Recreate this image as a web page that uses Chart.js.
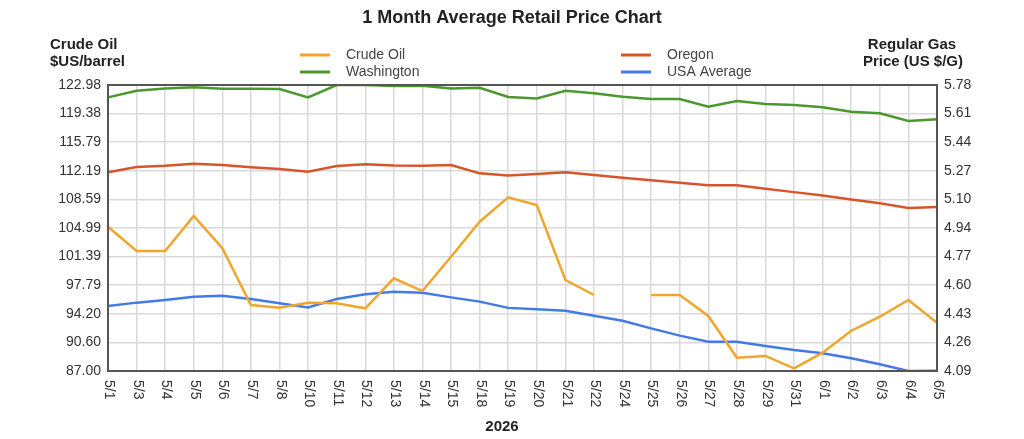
<!DOCTYPE html>
<html>
<head>
<meta charset="utf-8">
<script src="https://cdn.jsdelivr.net/npm/chart.js@4"></script>
<style>
  body { margin: 0; background: #fff; }
  canvas { display: block; }
</style>
</head>
<body>
<canvas id="priceChart" width="1024" height="439"></canvas>
<script>
const dates = ["5/1", "5/3", "5/4", "5/5", "5/6", "5/7", "5/8", "5/10", "5/11", "5/12",
  "5/13", "5/14", "5/15", "5/18", "5/19", "5/20", "5/21", "5/22", "5/24", "5/25",
  "5/26", "5/27", "5/28", "5/29", "5/31", "6/1", "6/2", "6/3", "6/4", "6/5"];

// $US/barrel, left axis (no quote on 5/24)
const crudeOil = [105.15, 102.10, 102.10, 106.50, 102.44, 95.30, 94.96, 95.59, 95.52, 94.89,
  98.66, 97.06, 101.38, 105.78, 108.85, 107.88, 98.45, 96.56, null, 96.56,
  96.56, 93.92, 88.67, 88.89, 87.34, 89.30, 92.07, 93.83, 95.93, 93.08];

// US $/gallon, right axis
const oregon = [5.264, 5.295, 5.303, 5.315, 5.307, 5.294, 5.284, 5.268, 5.301, 5.311,
  5.305, 5.303, 5.307, 5.258, 5.245, 5.254, 5.264, 5.248, 5.232, 5.217,
  5.203, 5.188, 5.187, 5.167, 5.147, 5.127, 5.103, 5.081, 5.053, 5.059];
const washington = [5.707, 5.746, 5.760, 5.766, 5.758, 5.758, 5.756, 5.707, 5.780, 5.780,
  5.774, 5.776, 5.760, 5.764, 5.709, 5.700, 5.746, 5.731, 5.711, 5.697,
  5.697, 5.652, 5.685, 5.668, 5.662, 5.648, 5.622, 5.613, 5.567, 5.577];
const usaAverage = [4.474, 4.494, 4.510, 4.529, 4.535, 4.515, 4.490, 4.466, 4.515, 4.543,
  4.559, 4.553, 4.525, 4.500, 4.463, 4.455, 4.446, 4.417, 4.387, 4.342,
  4.299, 4.263, 4.263, 4.238, 4.214, 4.195, 4.165, 4.130, 4.090, 4.092];

const crudeTicks = ["87.00", "90.60", "94.20", "97.79", "101.39", "104.99", "108.59", "112.19", "115.79", "119.38", "122.98"];
const gasTicks = ["4.09", "4.26", "4.43", "4.60", "4.77", "4.94", "5.10", "5.27", "5.44", "5.61", "5.78"];

const FONT = "'Liberation Sans', Arial, sans-serif";

// evenly spaced ticks between first and last label
function evenTicks(labels) {
  return function (scale) {
    const lo = parseFloat(labels[0]);
    const hi = parseFloat(labels[labels.length - 1]);
    const n = labels.length - 1;
    scale.ticks = labels.map((_, i) => ({ value: lo + (hi - lo) * i / n }));
  };
}

const decorations = {
  id: "decorations",
  afterDatasetsDraw(chart) {
    const ctx = chart.ctx;
    const area = chart.chartArea;
    ctx.save();
    ctx.strokeStyle = "#555";
    ctx.lineWidth = 2;
    ctx.strokeRect(area.left, area.top, area.right - area.left, area.bottom - area.top);
    ctx.restore();
  },
  afterDraw(chart) {
    const ctx = chart.ctx;
    const area = chart.chartArea;
    const xScale = chart.scales.x;
    ctx.save();

    // title
    ctx.fillStyle = "#222";
    ctx.textAlign = "center";
    ctx.textBaseline = "middle";
    ctx.font = "bold 18px " + FONT;
    ctx.fillText("1 Month Average Retail Price Chart", 512, 18);

    // axis titles
    ctx.font = "bold 15px " + FONT;
    ctx.textAlign = "left";
    ctx.fillText("Crude Oil", 50, 45);
    ctx.fillText("$US/barrel", 50, 62);
    ctx.textAlign = "center";
    ctx.fillText("Regular Gas", 912, 45);
    ctx.fillText("Price (US $/G)", 913, 62);

    // legend, two columns
    const cols = [300, 621];
    const rows = [55, 72];
    const order = [0, 2, 1, 3];
    ctx.font = "14px " + FONT;
    ctx.textAlign = "left";
    order.forEach((dsIndex, k) => {
      const ds = chart.data.datasets[dsIndex];
      const x = cols[Math.floor(k / 2)];
      const y = rows[k % 2];
      ctx.strokeStyle = ds.borderColor;
      ctx.lineWidth = 3;
      ctx.beginPath();
      ctx.moveTo(x, y);
      ctx.lineTo(x + 30, y);
      ctx.stroke();
      ctx.fillStyle = "#444";
      ctx.fillText(ds.label, x + 46, y);
    });

    // rotated date labels
    ctx.fillStyle = "#333";
    ctx.font = "14px " + FONT;
    dates.forEach((d, i) => {
      const x = xScale.getPixelForTick(i);
      ctx.save();
      ctx.translate(x + 1, area.bottom + 9);
      ctx.rotate(Math.PI / 2);
      ctx.textAlign = "left";
      ctx.textBaseline = "middle";
      ctx.fillText(d, 0, 0);
      ctx.restore();
    });

    ctx.font = "bold 15px " + FONT;
    ctx.fillStyle = "#222";
    ctx.textAlign = "center";
    ctx.fillText("2026", 502, 427);
    ctx.restore();
  }
};

const ctx = document.getElementById("priceChart").getContext("2d");

const chartData = {
  labels: dates,
  datasets: [
    {
      label: "Crude Oil",
      data: crudeOil,
      yAxisID: "yCrude",
      borderColor: "rgb(240, 166, 44)",
    },
    {
      label: "Oregon",
      data: oregon,
      yAxisID: "yGas",
      borderColor: "rgb(214, 86, 44)",
    },
    {
      label: "Washington",
      data: washington,
      yAxisID: "yGas",
      borderColor: "rgb(76, 152, 46)",
    },
    {
      label: "USA Average",
      data: usaAverage,
      yAxisID: "yGas",
      borderColor: "rgb(68, 122, 232)",
    },
  ],
};

const options = {
  responsive: false,
  animation: false,
  spanGaps: false,
  layout: { padding: { top: 85, left: 0, right: 0, bottom: 0 } },
  elements: {
    line: { borderWidth: 2.5, tension: 0, fill: false },
    point: { radius: 0 },
  },
  plugins: {
    legend: { display: false },
    title: { display: false },
    tooltip: { enabled: false },
  },
  scales: {
    x: {
      offset: false,
      grid: { color: "#d9d9d9", lineWidth: 1.5, drawTicks: false },
      border: { display: false },
      ticks: { display: false, autoSkip: false },
      afterFit(scale) { scale.height = 68; },
    },
    yCrude: {
      position: "left",
      min: 87,
      max: 122.98,
      afterBuildTicks: evenTicks(crudeTicks),
      grid: { color: "#d9d9d9", lineWidth: 1.5, drawTicks: false },
      border: { display: false },
      ticks: {
        padding: 7,
        color: "#333",
        font: { family: FONT, size: 14 },
        callback: (value, index) => crudeTicks[index],
      },
      afterFit(scale) { scale.width = 108; },
    },
    yGas: {
      position: "right",
      min: 4.09,
      max: 5.78,
      afterBuildTicks: evenTicks(gasTicks),
      grid: { display: false, drawTicks: false },
      border: { display: false },
      ticks: {
        padding: 7,
        color: "#333",
        font: { family: FONT, size: 14 },
        callback: (value, index) => gasTicks[index],
      },
      afterFit(scale) { scale.width = 87; },
    },
  },
};

const priceChart = new Chart(ctx, {
  type: "line",
  data: chartData,
  options: options,
  plugins: [decorations],
});
</script>
</body>
</html>
